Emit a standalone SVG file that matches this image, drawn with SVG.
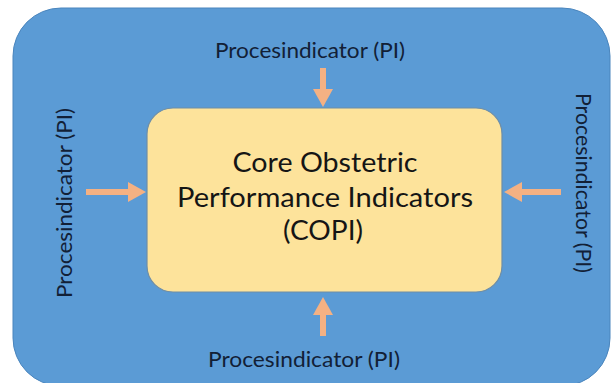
<svg xmlns="http://www.w3.org/2000/svg" width="611" height="383" viewBox="0 0 611 383">
  <style>
    .lbl { font-family: Lato, "Open Sans", "Liberation Sans", sans-serif; font-size: 21px; fill: #122036; text-anchor: middle; }
    .core { font-family: Lato, "Open Sans", "Liberation Sans", sans-serif; font-size: 27px; fill: #151515; text-anchor: middle; }
    .arrow { stroke: #F4B183; stroke-width: 6; fill: none; marker-end: url(#head); }
  </style>
  <defs>
    <marker id="head" viewBox="0 0 18 20" refX="0" refY="10" markerWidth="18" markerHeight="20" orient="auto" markerUnits="userSpaceOnUse">
      <path d="M0,0 L18,10 L0,20 Z" fill="#F4B183"/>
    </marker>
  </defs>
  <rect width="611" height="383" fill="#ffffff"/>
  <g id="frame">
    <rect x="13" y="8" width="597" height="378" rx="48" ry="48" fill="#5B9BD5" stroke="#4a85bd" stroke-width="1"/>
  </g>
  <g id="copi">
    <rect x="147" y="108" width="355" height="184" rx="26" ry="26" fill="#FDE39B" stroke="#6f8ea6" stroke-width="1.2"/>
    <text class="core" x="325" y="172" textLength="185" lengthAdjust="spacingAndGlyphs">Core Obstetric</text>
    <text class="core" x="325" y="207" textLength="296" lengthAdjust="spacingAndGlyphs">Performance Indicators</text>
    <text class="core" x="323" y="240" textLength="80" lengthAdjust="spacingAndGlyphs">(COPI)</text>
  </g>
  <g id="pi-top">
    <text class="lbl" x="310" y="58" textLength="190" lengthAdjust="spacingAndGlyphs">Procesindicator (PI)</text>
  </g>
  <g id="pi-bottom">
    <text class="lbl" x="304" y="367" textLength="192" lengthAdjust="spacingAndGlyphs">Procesindicator (PI)</text>
  </g>
  <g id="pi-left">
    <text class="lbl" transform="translate(72,203) rotate(-90)" x="0" y="0" textLength="190" lengthAdjust="spacingAndGlyphs">Procesindicator (PI)</text>
  </g>
  <g id="pi-right">
    <text class="lbl" transform="translate(576,183) rotate(90)" x="0" y="0" textLength="180" lengthAdjust="spacingAndGlyphs">Procesindicator (PI)</text>
  </g>
  <g id="connectors">
    <line class="arrow" x1="323" y1="68" x2="323" y2="89"/>
    <line class="arrow" x1="323" y1="336" x2="323" y2="315"/>
    <line class="arrow" x1="86" y1="192" x2="128" y2="192"/>
    <line class="arrow" x1="561" y1="192" x2="522" y2="192"/>
  </g>
</svg>
